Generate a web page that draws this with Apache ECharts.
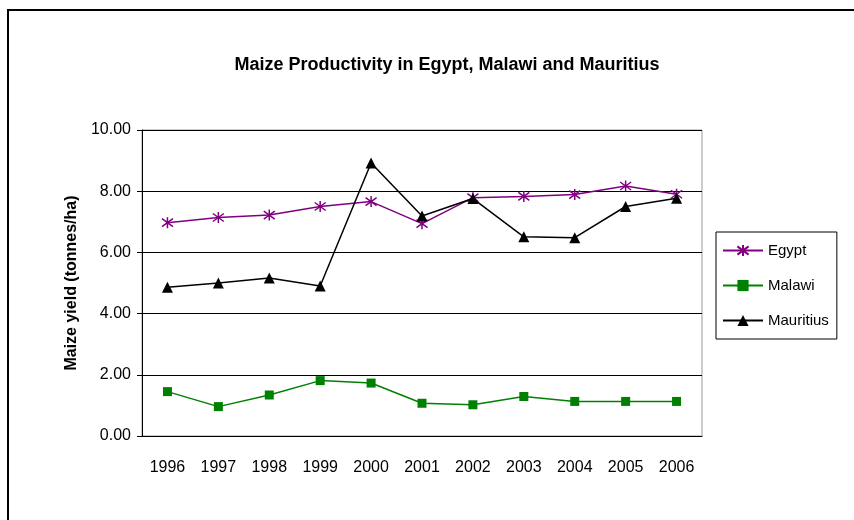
<!DOCTYPE html>
<html>
<head>
<meta charset="utf-8">
<title>Maize Productivity</title>
<script src="https://cdn.jsdelivr.net/npm/echarts@6/dist/echarts.min.js"></script>
<style>
  html, body { margin: 0; padding: 0; background: #fff; }
  #chart { width: 854px; height: 520px; }
</style>
</head>
<body>
<div id="chart"></div>
<script>
// data
var years = ['1996', '1997', '1998', '1999', '2000', '2001', '2002', '2003', '2004', '2005', '2006'];
var egypt = [6.97, 7.14, 7.22, 7.50, 7.66, 6.94, 7.79, 7.83, 7.89, 8.17, 7.90];
var malawi = [1.45, 0.96, 1.34, 1.81, 1.73, 1.07, 1.02, 1.29, 1.13, 1.13, 1.13];
var mauritius = [4.86, 5.00, 5.16, 4.90, 8.92, 7.19, 7.76, 6.51, 6.48, 7.50, 7.77];
var yTicks = { min: 0, max: 10, interval: 2 };

var font = 'Liberation Sans, Arial, sans-serif';
// excel-like star marker (x with a vertical bar)
var starPath = 'path://M-4,-4L4,4M-4,4L4,-4M0,-5.5L0,5.5';

var myChart = echarts.init(document.getElementById('chart'));
myChart.setOption({
    backgroundColor: '#fff',
    animation: false,
    graphic: [
        {
            type: 'rect',
            shape: { x: 8, y: 10, width: 900, height: 600 },
            style: { fill: 'none', stroke: '#000', lineWidth: 2 },
            silent: true
        }
    ],
    title: {
        text: 'Maize Productivity in Egypt, Malawi and Mauritius',
        left: 442,
        textAlign: 'center',
        top: 51,
        textStyle: { fontFamily: font, fontSize: 18, fontWeight: 'bold', color: '#000' }
    },
    legend: {
        orient: 'vertical',
        left: 716,
        top: 232,
        padding: [11, 8, 11, 6],
        itemGap: 20,
        itemWidth: 40,
        itemHeight: 14,
        borderColor: '#000',
        borderWidth: 1,
        textStyle: { fontFamily: font, fontSize: 15, color: '#000' },
        data: ['Egypt', 'Malawi', 'Mauritius']
    },
    grid: {
        left: 142,
        right: 152,
        top: 130,
        bottom: 84,
        show: true,
        borderColor: '#9a9a9a',
        borderWidth: 1
    },
    xAxis: {
        type: 'category',
        data: years,
        boundaryGap: true,
        axisLine: { lineStyle: { color: '#000', width: 1 } },
        axisTick: { length: 5, lineStyle: { color: '#000' } },
        axisLabel: { fontFamily: font, fontSize: 16, color: '#000', margin: 24 }
    },
    yAxis: {
        type: 'value',
        min: yTicks.min,
        max: yTicks.max,
        interval: yTicks.interval,
        name: 'Maize yield (tonnes/ha)',
        nameLocation: 'middle',
        nameGap: 62,
        nameTextStyle: { fontFamily: font, fontSize: 16, fontWeight: 'bold', color: '#000' },
        axisLine: { show: true, lineStyle: { color: '#000', width: 1 } },
        axisTick: { show: true, length: 5, lineStyle: { color: '#000' } },
        axisLabel: {
            fontFamily: font, fontSize: 16, color: '#000', margin: 11,
            formatter: function (v) { return v.toFixed(2); }
        },
        splitLine: { lineStyle: { color: '#000', width: 1 } }
    },
    series: [
        {
            name: 'Egypt',
            type: 'line',
            data: egypt,
            symbol: starPath,
            symbolSize: 11,
            showAllSymbol: true,
            lineStyle: { color: '#800080', width: 1.5 },
            itemStyle: { color: 'rgba(0,0,0,0)', borderColor: '#800080', borderWidth: 1.5 },
            z: 3
        },
        {
            name: 'Malawi',
            type: 'line',
            data: malawi,
            symbol: 'rect',
            symbolSize: 9,
            showAllSymbol: true,
            lineStyle: { color: '#008000', width: 1.5 },
            itemStyle: { color: '#008000', borderWidth: 0 },
            z: 2
        },
        {
            name: 'Mauritius',
            type: 'line',
            data: mauritius,
            symbol: 'triangle',
            symbolSize: 11,
            showAllSymbol: true,
            lineStyle: { color: '#000', width: 1.5 },
            itemStyle: { color: '#000', borderWidth: 0 },
            z: 4
        }
    ]
});
</script>
</body>
</html>
